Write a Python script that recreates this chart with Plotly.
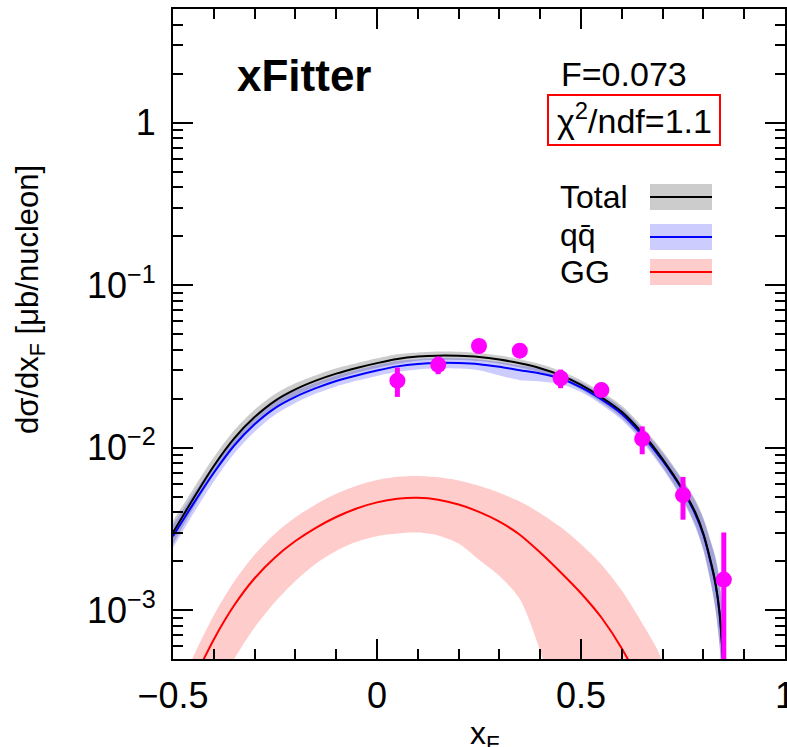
import plotly.graph_objects as go

# ---------------- data ----------------
x_tot = [-0.50, -0.45, -0.40, -0.35, -0.30, -0.25, -0.20, -0.15, -0.10, -0.05,
         0.00, 0.05, 0.10, 0.15, 0.20, 0.25, 0.30, 0.35, 0.40, 0.45,
         0.50, 0.55, 0.60, 0.65, 0.70, 0.75, 0.78, 0.80, 0.82, 0.83,
         0.84, 0.85, 0.86]
tot = [0.0030, 0.00486, 0.00771, 0.0114, 0.0154, 0.0194, 0.0228, 0.0258, 0.0285, 0.0309,
       0.0331, 0.0351, 0.0363, 0.0368, 0.0367, 0.0361, 0.0348, 0.0330, 0.0308, 0.0279,
       0.0243, 0.0204, 0.0166, 0.0123, 0.0085, 0.0055, 0.0040, 0.00295, 0.0019, 0.00145,
       0.00095, 0.0004, 0.0001]
# relative band width of Total, in percent
tot_unc = [18, 15, 13, 12, 11, 10, 9, 8, 8, 7,
           7, 7, 6, 6, 6, 6, 6, 6, 6, 6,
           7, 8, 9, 10, 12, 15, 20, 25, 35, 45,
           60, 80, 100]
qq = [0.00285, 0.00452, 0.0070, 0.0103, 0.0139, 0.0175, 0.0205, 0.0232, 0.0257, 0.0278,
      0.0298, 0.0316, 0.0327, 0.0332, 0.0331, 0.0326, 0.0314, 0.0299, 0.0286, 0.0266,
      0.0235, 0.0198, 0.0161, 0.0119, 0.0083, 0.0054, 0.0039, 0.0029, 0.00186, 0.00142,
      0.00093, 0.00039, 0.0001]
qq_unc_up = [18, 15, 13, 12, 11, 10, 9, 8, 8, 8,
             8, 8, 7, 7, 7, 7, 7, 7, 7, 7,
             7, 8, 9, 10, 12, 15, 20, 25, 35, 45,
             60, 80, 100]
qq_unc_dn = [18, 15, 13, 12, 11, 10, 9, 8, 8, 8,
             8, 8, 8, 8, 8, 9, 13, 15, 12, 8,
             7, 8, 9, 10, 12, 15, 20, 25, 35, 45,
             60, 80, 100]

x_gg = [-0.50, -0.45, -0.40, -0.35, -0.30, -0.25, -0.20, -0.15, -0.10, -0.05,
        0.00, 0.05, 0.10, 0.15, 0.20, 0.25, 0.30, 0.35, 0.40, 0.45,
        0.50, 0.55, 0.60, 0.65, 0.70]
gg = [0.00020, 0.00037, 0.00066, 0.00107, 0.00157, 0.00211, 0.00266, 0.00321, 0.00374, 0.00422,
      0.00460, 0.00484, 0.00491, 0.00478, 0.00446, 0.00402, 0.00350, 0.00291, 0.00226, 0.00171,
      0.00127, 0.00090, 0.00058, 0.00033, 0.00015]
gg_hi = [0.00028, 0.00052, 0.00093, 0.00150, 0.00219, 0.00295, 0.00372, 0.00447, 0.00519, 0.00582,
         0.00631, 0.00661, 0.00668, 0.00656, 0.00627, 0.00582, 0.00527, 0.00465, 0.00395, 0.00324,
         0.00254, 0.00191, 0.00132, 0.00083, 0.00047]
gg_lo = [0.00010, 0.00017, 0.00030, 0.00050, 0.00078, 0.00112, 0.00151, 0.00193, 0.00231, 0.00263,
         0.00285, 0.00296, 0.00300, 0.00288, 0.00257, 0.00204, 0.00162, 0.00117, 0.00056, 0.00020,
         0.0001, 0.0001, 0.0001, 0.0001, 0.0001]

data_x = [0.05, 0.15, 0.25, 0.35, 0.45, 0.55, 0.65, 0.75, 0.85]
data_y = [0.0258, 0.0323, 0.0422, 0.0395, 0.0267, 0.0226, 0.0113, 0.0051, 0.00154]
data_err = [0.0053, 0.0040, 0.0015, 0.0015, 0.0035, 0.0015, 0.0022, 0.0015, 0.00146]

x_major = [-0.5, 0, 0.5, 1]
x_major_text = ["\u22120.5", "0", "0.5", "1"]
y_major = [0.001, 0.01, 0.1, 1]
y_major_text = ["10<sup>\u22123</sup>", "10<sup>\u22122</sup>", "10<sup>\u22121</sup>", "1"]

# ---------------- figure ----------------
W, H = 787, 747
L, R, T, B = 173, 2, 9, 88
FONT = "Liberation Sans, Arial, Helvetica, sans-serif"

fig = go.Figure()


def band(x, lo, hi, color):
    fig.add_trace(go.Scatter(x=list(x) + list(x)[::-1], y=list(hi) + list(lo)[::-1],
                             fill="toself", fillcolor=color, mode="lines",
                             line=dict(width=0, shape="spline", smoothing=0.8),
                             hoverinfo="skip", showlegend=False))


def line(x, y, color, w=2):
    fig.add_trace(go.Scatter(x=x, y=y, mode="lines",
                             line=dict(color=color, width=w, shape="spline", smoothing=0.8),
                             hoverinfo="skip", showlegend=False))


band(x_gg, gg_lo, gg_hi, "rgba(255,0,0,0.2)")
line(x_gg, gg, "#ff0000", 2)

qq_lo = [v / (1 + u / 100) for v, u in zip(qq, qq_unc_dn)]
qq_hi = [v * (1 + u / 100) for v, u in zip(qq, qq_unc_up)]
tot_lo = [v / (1 + u / 100) for v, u in zip(tot, tot_unc)]
tot_hi = [v * (1 + u / 100) for v, u in zip(tot, tot_unc)]
band(x_tot, tot_lo, tot_hi, "rgba(0,0,0,0.2)")
band(x_tot, qq_lo, qq_hi, "rgba(0,0,255,0.2)")
line(x_tot, qq, "#0000ff", 2)
line(x_tot, tot, "#000000", 2)

fig.add_trace(go.Scatter(x=data_x, y=data_y, mode="markers",
                         marker=dict(color="#ff00ff", size=16, symbol="circle"),
                         error_y=dict(type="data", array=data_err, color="#ff00ff",
                                      thickness=5, width=0),
                         showlegend=False))

x_minor = [-0.4, -0.3, -0.2, -0.1, 0.1, 0.2, 0.3, 0.4, 0.6, 0.7, 0.8, 0.9]
y_minor = []
for dec in [1e-4, 1e-3, 1e-2, 1e-1, 1]:
    for m in range(2, 10):
        v = m * dec
        if 5e-4 <= v <= 5:
            y_minor.append(v)

axis_common = dict(showline=True, linecolor="black", linewidth=2, mirror="allticks",
                   ticks="inside", tickwidth=2, tickcolor="black", showgrid=False,
                   zeroline=False, ticklabeloverflow="allow",
                   tickfont=dict(family=FONT, size=36, color="black"))

fig.update_xaxes(range=[-0.5, 1.0], tickvals=x_major, ticktext=x_major_text, ticklen=20,
                 ticklabelstandoff=4,
                 minor=dict(tickvals=x_minor, ticks="inside", ticklen=10, tickwidth=2,
                            tickcolor="black", showgrid=False),
                 **axis_common)
fig.update_yaxes(type="log", range=[-3.30103, 0.69897], tickvals=y_major, ticktext=y_major_text,
                 ticklen=20, ticklabelstandoff=8,
                 minor=dict(tickvals=y_minor, ticks="inside", ticklen=10, tickwidth=2,
                            tickcolor="black", showgrid=False),
                 **axis_common)


def px(xp):
    return (xp - L) / (W - L - R)


def py(yp):
    return (H - B - yp) / (H - T - B)


ann = []
ann.append(dict(text="<b>xFitter</b>", x=px(235), y=py(75), xanchor="left", yanchor="middle",
                font=dict(family=FONT, size=44, color="black")))
ann.append(dict(text="F=0.073", x=px(559), y=py(74), xanchor="left", yanchor="middle",
                font=dict(family=FONT, size=34, color="black")))
ann.append(dict(text="\u03c7<sup>2</sup>/ndf=1.1", x=px(555), y=py(119), xanchor="left",
                yanchor="middle", font=dict(family=FONT, size=34, color="black")))
ann.append(dict(text="Total", x=px(558), y=py(197), xanchor="left", yanchor="middle",
                font=dict(family=FONT, size=32, color="black")))
ann.append(dict(text="qq\u0304", x=px(558), y=py(235), xanchor="left", yanchor="middle",
                font=dict(family=FONT, size=32, color="black")))
ann.append(dict(text="GG", x=px(558), y=py(272), xanchor="left", yanchor="middle",
                font=dict(family=FONT, size=32, color="black")))
ann.append(dict(text="d\u03c3/dx<sub>F</sub> [\u03bcb/nucleon]", x=px(30), y=py(300),
                xanchor="center", yanchor="middle", textangle=-90,
                font=dict(family=FONT, size=31, color="black")))
ann.append(dict(text="x<sub>F</sub>", x=px(485), y=py(735), xanchor="center", yanchor="middle",
                font=dict(family=FONT, size=32, color="black")))
for a in ann:
    a.update(xref="paper", yref="paper", showarrow=False)

shapes = []
# red box around chi2
shapes.append(dict(type="rect", x0=px(548), x1=px(720), y0=py(145), y1=py(95),
                   line=dict(color="#ff0000", width=2)))
# legend boxes and lines
for yc, fillc, linec in [(197, "rgba(0,0,0,0.2)", "#000000"),
                         (237, "rgba(0,0,255,0.2)", "#0000ff"),
                         (272, "rgba(255,0,0,0.2)", "#ff0000")]:
    shapes.append(dict(type="rect", x0=px(650), x1=px(712), y0=py(yc + 13), y1=py(yc - 13),
                       fillcolor=fillc, line=dict(width=0)))
    shapes.append(dict(type="line", x0=px(650), x1=px(712), y0=py(yc), y1=py(yc),
                       line=dict(color=linec, width=2)))
for s in shapes:
    s.update(xref="paper", yref="paper")

fig.update_layout(width=W, height=H, margin=dict(l=L, r=R, t=T, b=B, autoexpand=False),
                  paper_bgcolor="white", plot_bgcolor="white",
                  annotations=ann, shapes=shapes, showlegend=False,
                  font=dict(family=FONT, color="black"))

fig.write_html("out.html")
